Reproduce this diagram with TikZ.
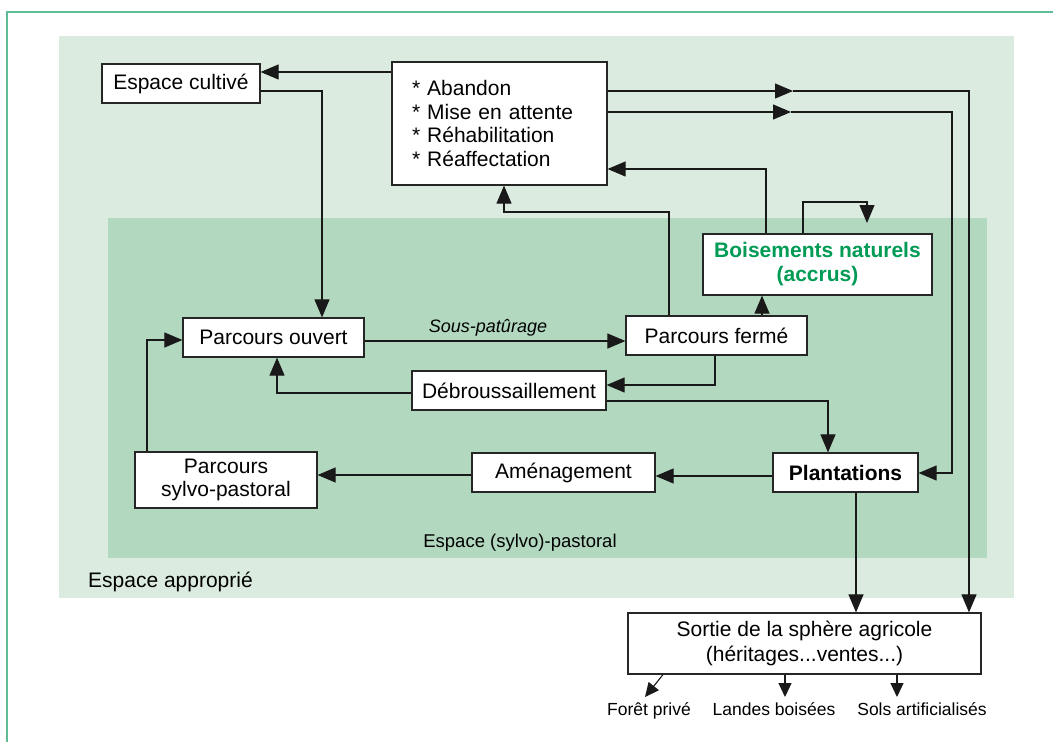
\documentclass[tikz,border=0pt]{standalone}
\usepackage{fontspec}
\setmainfont{Liberation Sans}
\usetikzlibrary{arrows.meta}
\definecolor{lightbg}{RGB}{220,235,223}
\definecolor{darkbg}{RGB}{178,217,191}
\definecolor{framec}{RGB}{95,188,150}
\definecolor{boisgreen}{RGB}{0,155,85}
\begin{document}
\begin{tikzpicture}[x=1pt,y=-1pt,
 box/.style={draw=black!85, line width=1.2pt, fill=white, inner sep=0pt, font=\fontsize{21}{24}\selectfont, align=center},
 conn/.style={draw=black!90, line width=1.1pt},
 arr/.style={conn, -{Triangle[length=18pt,width=15pt]}},
 sarr/.style={conn, -{Triangle[length=14pt,width=13pt]}},
 small/.style={font=\fontsize{17.5}{20}\selectfont, inner xsep=0pt, inner ysep=5pt, anchor=north},
]
\useasboundingbox (0,0) rectangle (1053,742);
% frame and backgrounds
\draw[framec, line width=1.3pt] (7,742) -- (7,12) -- (1053,12);
\fill[lightbg] (59,36) rectangle (1014,598);
\fill[darkbg] (108,218) rectangle (987,558);
\node[font=\fontsize{21}{24}\selectfont, anchor=base west, inner sep=0pt] (eapp) at (88,587) {Espace approprié};
\node[font=\fontsize{18.5}{22}\selectfont] (esp) at (520,543) {Espace (sylvo)-pastoral};

% boxes
\node[box, minimum width=158pt, minimum height=39pt] (cult) at (181,83.5) {Espace cultivé};
\node[box, minimum width=215pt, minimum height=123pt, text width=175pt, align=left, inner xsep=20pt,
      font=\fontsize{21}{23.5}\selectfont] (aband) at (499.5,123.5)
      {* Abandon\\[0pt]* Mise en attente\\[0pt]* Réhabilitation\\[0pt]* Réaffectation};
\node[box, minimum width=229pt, minimum height=61pt, text=boisgreen, font=\fontsize{21}{24}\selectfont\bfseries] (bois) at (817.5,264.5) {Boisements naturels\\(accrus)};
\node[box, minimum width=181pt, minimum height=39pt] (pferme) at (716.5,335.5) {Parcours fermé};
\node[box, minimum width=181pt, minimum height=39pt] (aouv) at (273.5,337.5) {Parcours ouvert};
\node[box, minimum width=194pt, minimum height=39pt] (debr) at (509,390.5) {Débroussaillement};
\node[box, minimum width=182pt, minimum height=56pt, font=\fontsize{21}{23.5}\selectfont] (sylvo) at (226,480) {Parcours\\sylvo-pastoral};
\node[box, minimum width=183pt, minimum height=39pt] (amen) at (563.5,472.5) {Aménagement};
\node[box, minimum width=145pt, minimum height=39pt, font=\fontsize{21}{24}\selectfont\bfseries] (plant) at (845.5,472.5) {Plantations};
\node[box, minimum width=353pt, minimum height=61pt, font=\fontsize{21}{25}\selectfont] (sortie) at (804.5,643.5) {Sortie de la sphère agricole\\(héritages...ventes...)};

\node[small] (foret) at (649,697) {Forêt privé};
\node[small] (landes) at (774,697) {Landes boisées};
\node[small] (sols) at (922,697) {Sols artificialisés};

% connectors
\draw[arr] (aband.west |- 0,72) -- (cult.east |- 0,72);
\draw[arr] (cult.east |- 0,91) -| (aouv.north -| 322,0);
\coordinate (m1) at (793,91);
\coordinate (m2) at (791,112);
\draw[arr] (aband.east |- 0,91) -- (m1);
\draw[arr] (m1) -| (sortie.north -| 969,0);
\draw[arr] (aband.east |- 0,112) -- (m2);
\draw[arr] (m2) -| (952,473) -- (plant.east |- 0,473);
\draw[arr] (pferme.north -| 669,0) |- (504,212) -- (aband.south -| 504,0);
\draw[arr] (bois.north -| 766,0) |- (aband.east |- 0,169);
\coordinate (loopend) at (867,223);
\draw[arr] (bois.north -| 803,0) |- (867,202) -- (loopend);
\draw[arr] (pferme.north -| 762,0) -- (bois.south -| 762,0);
\draw[arr] (aouv.east |- 0,341) -- (pferme.west |- 0,341);
\node[font=\fontsize{18}{20}\selectfont\itshape] (souspat) at (488,328) {Sous-patûrage};
\draw[arr] (pferme.south -| 715,0) |- (debr.east |- 0,385);
\draw[arr] (debr.west |- 0,393) -| (aouv.south -| 277,0);
\draw[arr] (debr.east |- 0,401) -| (plant.north -| 828,0);
\draw[arr] (plant.west |- 0,476) -- (amen.east |- 0,476);
\draw[arr] (amen.west |- 0,475) -- (sylvo.east |- 0,475);
\draw[arr] (sylvo.north -| 147,0) |- (aouv.west |- 0,340);
\draw[arr] (plant.south -| 856,0) -- (sortie.north -| 856,0);
\draw[sarr] (sortie.south -| 663,0) -- (foret.north -| 645,0);
\draw[sarr] (sortie.south -| 785,0) -- (landes.north -| 785,0);
\draw[sarr] (sortie.south -| 897,0) -- (sols.north -| 897,0);
\end{tikzpicture}
\end{document}
